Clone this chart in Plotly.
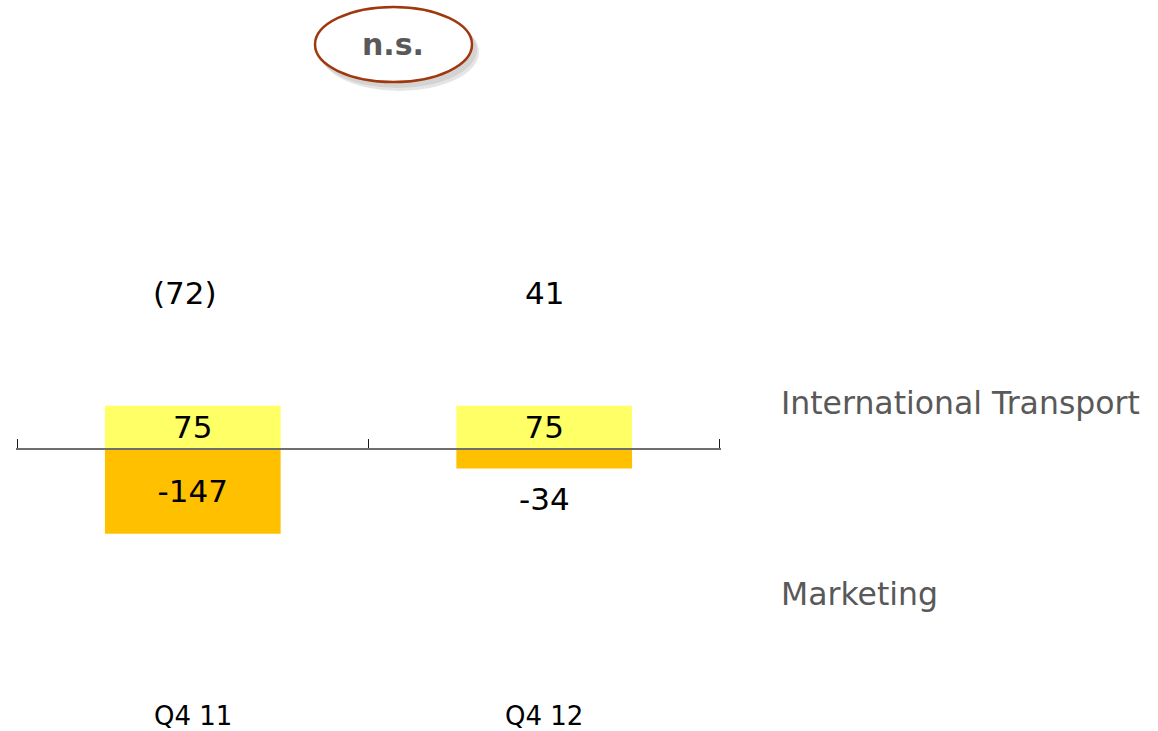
import plotly.graph_objects as go

# Quarterly contribution by segment
quarters = ["Q4 11", "Q4 12"]
intl_transport = [75, 75]
marketing = [-147, -34]
segment_names = ["International Transport", "Marketing"]
change_label = "n.s."

totals = [a + b for a, b in zip(intl_transport, marketing)]


def fmt_total(v):
    return f"({abs(v)})" if v < 0 else f"{v}"


W, H = 1158, 731
L, R, T, B = 16, 437, 0, 0
PX_PER_UNIT = 0.577
ZERO_PX = 449
y_max = (ZERO_PX - T) / PX_PER_UNIT
y_min = -(H - B - ZERO_PX) / PX_PER_UNIT
X_PAD = 0.003


def px(xp):
    return (xp - L) / (W - L - R)


def py(yp):
    return 1 - (yp - T) / (H - T - B)


FONT = "DejaVu Sans"
YELLOW = "#FFFF66"
ORANGE = "#FFC000"
GREY_TXT = "#595959"
NUM_SIZE = 31

fig = go.Figure()
fig.add_trace(go.Bar(
    x=quarters, y=intl_transport, name=segment_names[0],
    marker=dict(color=YELLOW, line=dict(width=0)),
    width=0.5, text=[str(v) for v in intl_transport],
    textposition="inside", insidetextanchor="middle", textangle=0,
    constraintext="none",
    textfont=dict(family=FONT, size=NUM_SIZE, color="#000000"),
))
fig.add_trace(go.Bar(
    x=quarters, y=marketing, name=segment_names[1],
    marker=dict(color=ORANGE, line=dict(width=0)),
    width=0.5, text=[str(v) for v in marketing],
    textposition=["inside", "none"], insidetextanchor="middle", textangle=0,
    constraintext="none",
    textfont=dict(family=FONT, size=NUM_SIZE, color="#000000"),
))

annotations = []
# small negative value written below its bar
annotations.append(dict(
    x=quarters[1], y=marketing[1], xref="x", yref="y",
    text=str(marketing[1]), showarrow=False, yanchor="middle", yshift=-30,
    font=dict(family=FONT, size=NUM_SIZE, color="#000000"),
))
# totals above each column
for q, t in zip(quarters, totals):
    annotations.append(dict(
        x=q, y=py(293), xref="x", yref="paper", text=fmt_total(t),
        showarrow=False, yanchor="middle", xshift=-8 if t < 0 else 0,
        font=dict(family=FONT, size=NUM_SIZE, color="#000000"),
    ))
# category labels
for q in quarters:
    annotations.append(dict(
        x=q, y=py(716), xref="x", yref="paper", text=q,
        showarrow=False, yanchor="middle",
        font=dict(family=FONT, size=26, color="#000000"),
    ))
# segment labels on the right
for name, yp in zip(segment_names, [403, 594]):
    annotations.append(dict(
        x=px(779), y=py(yp), xref="paper", yref="paper", text=name,
        showarrow=False, xanchor="left", yanchor="middle",
        font=dict(family=FONT, size=31.5, color=GREY_TXT),
    ))
# change badge text
annotations.append(dict(
    x=px(393), y=py(44), xref="paper", yref="paper", text=f"<b>{change_label}</b>",
    showarrow=False, xanchor="center", yanchor="middle",
    font=dict(family=FONT, size=30, color=GREY_TXT),
))

shapes = [
    # soft shadow behind badge
    dict(type="circle", xref="paper", yref="paper",
         x0=px(320), x1=px(479), y0=py(13), y1=py(91),
         fillcolor="rgba(0,0,0,0.10)", line=dict(width=0), layer="below"),
    dict(type="circle", xref="paper", yref="paper",
         x0=px(318), x1=px(477), y0=py(11), y1=py(88),
         fillcolor="rgba(0,0,0,0.08)", line=dict(width=0), layer="below"),
    # badge outline
    dict(type="circle", xref="paper", yref="paper",
         x0=px(315), x1=px(472), y0=py(7), y1=py(82),
         fillcolor="#FFFFFF", line=dict(color="#A0380E", width=2.5)),
]

fig.update_layout(
    width=W, height=H,
    margin=dict(l=L, r=R, t=T, b=B, autoexpand=False),
    paper_bgcolor="#FFFFFF", plot_bgcolor="#FFFFFF",
    barmode="relative", showlegend=False,
    annotations=annotations, shapes=shapes,
    xaxis=dict(
        type="category", range=[-0.5 - X_PAD, 1.5 + X_PAD],
        anchor="free", position=(0 - y_min) / (y_max - y_min),
        showline=True, linecolor="#6f6f6f", linewidth=1.5,
        ticks="inside", tickson="boundaries", ticklen=9,
        tickcolor="#1a1a1a", tickwidth=1,
        showticklabels=False, showgrid=False, zeroline=False,
    ),
    yaxis=dict(
        range=[y_min, y_max], visible=False, showgrid=False, zeroline=False,
    ),
)

fig.write_html("out.html")
